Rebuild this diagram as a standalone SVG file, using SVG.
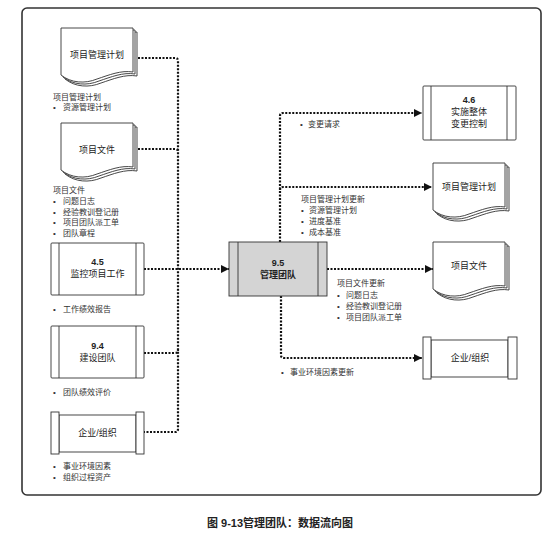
<svg xmlns="http://www.w3.org/2000/svg" width="550" height="536" viewBox="0 0 550 536">
<style>
  .frame{fill:none;stroke:#333;stroke-width:1.6}
  .sheet{fill:#fff;stroke:#333;stroke-width:0.9}
  .box{fill:#fff;stroke:#333;stroke-width:0.9}
  .hub{fill:#d4d4d4;stroke:#333;stroke-width:0.9}
  .conn{fill:none;stroke:#111;stroke-width:2.2;stroke-dasharray:2 1.5}
  .nt{font-family:"Liberation Sans","Noto Sans CJK SC",sans-serif;font-size:9px;fill:#222;text-anchor:middle}
  .b{font-weight:bold}
  .lb{font-family:"Liberation Sans","Noto Sans CJK SC",sans-serif;font-size:8px;fill:#333}
  .cap{font-family:"Liberation Sans","Noto Sans CJK SC",sans-serif;font-size:11px;font-weight:bold;fill:#222;text-anchor:middle}
</style>
<defs>
  <path id="sheet" d="M0,0 H72 V44 C60,42 48,47 36,51 C24,56 10,55 0,47 Z"/>
  <g id="doc">
    <use href="#sheet" class="sheet" x="4" y="4"/>
    <use href="#sheet" class="sheet" x="2" y="2"/>
    <use href="#sheet" class="sheet"/>
  </g>
  <marker id="arr" viewBox="0 0 10 10" refX="10" refY="5" markerWidth="9" markerHeight="8" markerUnits="userSpaceOnUse" orient="auto">
    <path d="M0,0 L10,5 L0,10 Z" fill="#111"/>
  </marker>
</defs>

<rect class="frame" x="22" y="8" width="519" height="487" rx="5"/>

<g id="connectors">
  <path class="conn" d="M138,58 H175 Q178,58 178,61 V429 Q178,432 175,432 H144"/>
  <path class="conn" d="M138,149 H175 Q178,149 178,152"/>
  <path class="conn" d="M144,353 H175 Q178,353 178,350"/>
  <path class="conn" d="M144,269 H229" marker-end="url(#arr)"/>
  <path class="conn" d="M280,242 V116 Q280,113 283,113 H422" marker-end="url(#arr)"/>
  <path class="conn" d="M280,190 Q280,187 283,187 H432" marker-end="url(#arr)"/>
  <path class="conn" d="M327,269 H433" marker-end="url(#arr)"/>
  <path class="conn" d="M281,296 V355 Q281,358 284,358 H422" marker-end="url(#arr)"/>
</g>

<g id="in-pmp">
  <use href="#doc" x="61" y="28"/>
  <text class="nt" x="97" y="58">项目管理计划</text>
  <text class="lb" x="53" y="100">项目管理计划</text>
  <text class="lb" y="110"><tspan x="53">•</tspan><tspan x="63">资源管理计划</tspan></text>
</g>

<g id="in-docs">
  <use href="#doc" x="61" y="123"/>
  <text class="nt" x="97" y="153">项目文件</text>
  <text class="lb" x="53" y="193">项目文件</text>
  <text class="lb" y="204"><tspan x="53">•</tspan><tspan x="63">问题日志</tspan></text>
  <text class="lb" y="214.5"><tspan x="53">•</tspan><tspan x="63">经验教训登记册</tspan></text>
  <text class="lb" y="225"><tspan x="53">•</tspan><tspan x="63">项目团队派工单</tspan></text>
  <text class="lb" y="236"><tspan x="53">•</tspan><tspan x="63">团队章程</tspan></text>
</g>

<g id="in-45">
  <rect class="box" x="51" y="243" width="93" height="52" rx="1"/>
  <line class="box" x1="59" y1="243" x2="59" y2="295"/>
  <line class="box" x1="136" y1="243" x2="136" y2="295"/>
  <text class="nt b" x="97.5" y="265">4.5</text>
  <text class="nt" x="97.5" y="277">监控项目工作</text>
  <text class="lb" y="312"><tspan x="53">•</tspan><tspan x="63">工作绩效报告</tspan></text>
</g>

<g id="in-94">
  <rect class="box" x="51" y="326" width="93" height="52" rx="1"/>
  <line class="box" x1="59" y1="326" x2="59" y2="378"/>
  <line class="box" x1="136" y1="326" x2="136" y2="378"/>
  <text class="nt b" x="97.5" y="349">9.4</text>
  <text class="nt" x="97.5" y="361">建设团队</text>
  <text class="lb" y="395"><tspan x="53">•</tspan><tspan x="63">团队绩效评价</tspan></text>
</g>

<g id="in-org">
  <rect class="box" x="59" y="415" width="77" height="37"/>
  <rect class="box" x="51" y="412" width="8" height="42"/>
  <rect class="box" x="136" y="412" width="8" height="42"/>
  <text class="nt" x="97.5" y="436">企业/组织</text>
  <text class="lb" y="469"><tspan x="53">•</tspan><tspan x="63">事业环境因素</tspan></text>
  <text class="lb" y="480"><tspan x="53">•</tspan><tspan x="63">组织过程资产</tspan></text>
</g>

<g id="hub-95">
  <rect class="hub" x="229" y="242" width="98" height="54"/>
  <line class="hub" x1="238" y1="242" x2="238" y2="296"/>
  <line class="hub" x1="318" y1="242" x2="318" y2="296"/>
  <text class="nt b" x="278" y="266">9.5</text>
  <text class="nt b" x="278" y="278">管理团队</text>
</g>

<g id="out-46">
  <rect class="box" x="423" y="86" width="93" height="54" rx="1"/>
  <line class="box" x1="431" y1="86" x2="431" y2="140"/>
  <line class="box" x1="507" y1="86" x2="507" y2="140"/>
  <text class="nt b" x="469" y="103">4.6</text>
  <text class="nt" x="469" y="115">实施整体</text>
  <text class="nt" x="469" y="127">变更控制</text>
  <text class="lb" y="127"><tspan x="300">•</tspan><tspan x="308">变更请求</tspan></text>
</g>

<g id="out-pmp">
  <use href="#doc" x="433" y="163"/>
  <text class="nt" x="469" y="190">项目管理计划</text>
  <text class="lb" x="301" y="202">项目管理计划更新</text>
  <text class="lb" y="213"><tspan x="301">•</tspan><tspan x="309">资源管理计划</tspan></text>
  <text class="lb" y="224"><tspan x="301">•</tspan><tspan x="309">进度基准</tspan></text>
  <text class="lb" y="235"><tspan x="301">•</tspan><tspan x="309">成本基准</tspan></text>
</g>

<g id="out-docs">
  <use href="#doc" x="433" y="242"/>
  <text class="nt" x="469" y="269">项目文件</text>
  <text class="lb" x="337" y="286">项目文件更新</text>
  <text class="lb" y="297.5"><tspan x="337">•</tspan><tspan x="346">问题日志</tspan></text>
  <text class="lb" y="308.5"><tspan x="337">•</tspan><tspan x="346">经验教训登记册</tspan></text>
  <text class="lb" y="319.5"><tspan x="337">•</tspan><tspan x="346">项目团队派工单</tspan></text>
</g>

<g id="out-org">
  <rect class="box" x="431" y="340" width="77" height="37"/>
  <rect class="box" x="423" y="337" width="8" height="42"/>
  <rect class="box" x="508" y="337" width="9" height="42"/>
  <text class="nt" x="470" y="361">企业/组织</text>
  <text class="lb" y="375"><tspan x="281">•</tspan><tspan x="290">事业环境因素更新</tspan></text>
</g>

<text class="cap" x="280" y="527">图 9-13管理团队：数据流向图</text>
</svg>
